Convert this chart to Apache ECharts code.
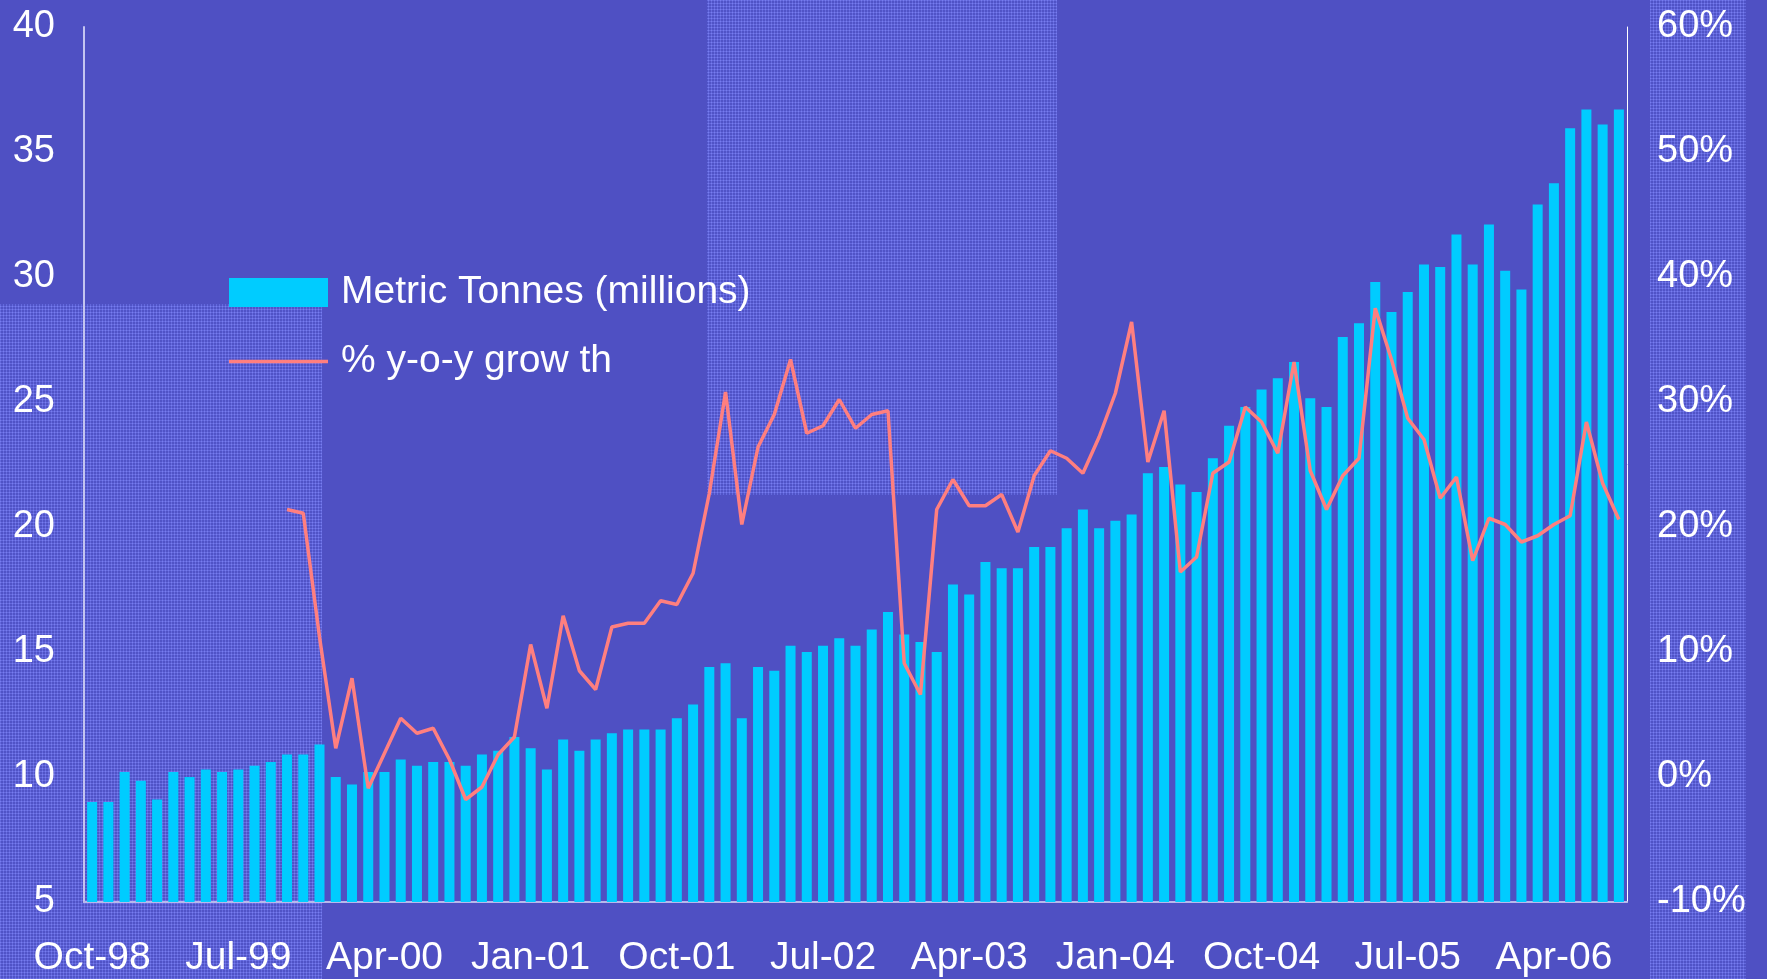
<!DOCTYPE html>
<html>
<head>
<meta charset="utf-8">
<title>Metric Tonnes</title>
<script src="https://cdn.jsdelivr.net/npm/echarts@6/dist/echarts.min.js"></script>
<style>
  html, body { margin: 0; padding: 0; background: #4f50c3; }
  #main { width: 1767px; height: 979px; }
</style>
</head>
<body>
<div id="main"></div>
<script>
// months Oct-98 .. Aug-06
const monthNames = ["Jan","Feb","Mar","Apr","May","Jun","Jul","Aug","Sep","Oct","Nov","Dec"];
const categories = [];
for (let i = 0; i < 95; i++) {
  const m = (9 + i) % 12;
  const y = 1998 + Math.floor((9 + i) / 12);
  categories.push(monthNames[m] + "-" + String(y).slice(2));
}

// Metric Tonnes (millions)
const tonnes = [
  9.0, 9.0, 10.2, 9.85, 9.1, 10.2, 10.0, 10.3, 10.2, 10.3,
  10.45, 10.6, 10.9, 10.9, 11.3, 10.0, 9.7, 10.2, 10.2, 10.7,
  10.45, 10.6, 10.6, 10.45, 10.9, 11.05, 11.6, 11.15, 10.3, 11.5,
  11.05, 11.5, 11.75, 11.9, 11.9, 11.9, 12.35, 12.9, 14.4, 14.55,
  12.35, 14.4, 14.25, 15.25, 15.0, 15.25, 15.55, 15.25, 15.9, 16.6,
  15.7, 15.4, 15.0, 17.7, 17.3, 18.6, 18.35, 18.35, 19.2, 19.2,
  19.95, 20.7, 19.95, 20.25, 20.5, 22.15, 22.4, 21.7, 21.4, 22.75,
  24.05, 24.8, 25.5, 25.95, 26.6, 25.15, 24.8, 27.6, 28.15, 29.8,
  28.6, 29.4, 30.5, 30.4, 31.7, 30.5, 32.1, 30.25, 29.5, 32.9,
  33.75, 35.95, 36.7, 36.1, 36.7
];

// % y-o-y growth (first 12 months have no value)
const growth = [
  null, null, null, null, null, null, null, null, null, null, null, null,
  21.4, 21.1, 11.2, 2.3, 7.9, -0.9, 1.9, 4.7, 3.5, 3.9,
  1.4, -1.8, -0.8, 1.8, 3.2, 10.6, 5.5, 12.9, 8.5, 7.0,
  12.0, 12.3, 12.3, 14.1, 13.8, 16.3, 22.7, 30.8, 20.2, 26.4,
  29.0, 33.4, 27.5, 28.1, 30.2, 27.9, 29.0, 29.3, 9.1, 6.6,
  21.4, 23.8, 21.7, 21.7, 22.6, 19.6, 24.1, 26.1, 25.5, 24.3,
  27.2, 30.7, 36.4, 25.2, 29.3, 16.4, 17.6, 24.3, 25.2, 29.6,
  28.4, 25.9, 33.2, 24.5, 21.4, 24.1, 25.5, 37.5, 33.4, 28.7,
  27.0, 22.3, 24.0, 17.3, 20.7, 20.2, 18.8, 19.3, 20.2, 20.9,
  28.4, 23.5, 20.6
];

const seriesNames = ["Metric Tonnes (millions)", "% y-o-y grow th"];
const font = "'Liberation Sans', Arial, sans-serif";

// dotted texture for the lighter background panels
const tile = document.createElement("canvas");
tile.width = 3; tile.height = 3;
const tc = tile.getContext("2d");
tc.fillStyle = "rgb(80,83,198)";
tc.fillRect(0, 0, 3, 3);
tc.fillStyle = "rgb(100,105,222)";
tc.fillRect(0, 0, 3, 1);
tc.fillRect(0, 0, 1, 3);
tc.fillStyle = "rgb(120,125,238)";
tc.fillRect(0, 0, 1, 1);
const texture = { image: tile, repeat: "repeat" };

const chart = echarts.init(document.getElementById("main"));
chart.setOption({
  backgroundColor: "#4f50c3",
  animation: false,
  textStyle: { fontFamily: font },
  graphic: [
    { type: "rect", z: -10, silent: true, shape: { x: 0, y: 304, width: 322, height: 675 }, style: { fill: texture } },
    { type: "rect", z: -10, silent: true, shape: { x: 707, y: 0, width: 350, height: 495 }, style: { fill: texture } },
    { type: "rect", z: -10, silent: true, shape: { x: 1650, y: 0, width: 96, height: 979 }, style: { fill: texture } }
  ],
  legend: {
    orient: "vertical",
    left: 224,
    top: 268,
    itemWidth: 99,
    itemHeight: 29,
    itemGap: 30,
    symbolKeepAspect: true,
    data: [
      { name: seriesNames[0], icon: "rect" },
      { name: seriesNames[1], icon: "path://M0,0H99V3.5H0Z", itemStyle: { color: "#ff7f7f" } }
    ],
    textStyle: { color: "#ffffff", fontSize: 39, fontFamily: font, padding: [0, 0, 0, 8] }
  },
  grid: { left: 84, right: 140, top: 27, bottom: 77 },
  xAxis: {
    type: "category",
    data: categories,
    boundaryGap: true,
    axisLine: { onZero: false, lineStyle: { color: "#b8b8ec", width: 2 } },
    axisTick: { show: false },
    axisLabel: { interval: 8, color: "#ffffff", fontSize: 39, margin: 37, fontFamily: font },
    splitLine: { show: false }
  },
  yAxis: [
    {
      type: "value",
      min: 5,
      max: 40,
      interval: 5,
      axisLine: { show: true, lineStyle: { color: "#c4c4f0", width: 2 } },
      axisTick: { show: false },
      splitLine: { show: false },
      axisLabel: { color: "#ffffff", fontSize: 38, margin: 29, fontFamily: font }
    },
    {
      type: "value",
      min: -10,
      max: 60,
      interval: 10,
      position: "right",
      axisLine: { show: true, lineStyle: { color: "#ffffff", width: 1 } },
      axisTick: { show: false },
      splitLine: { show: false },
      axisLabel: { color: "#ffffff", fontSize: 38, margin: 30, formatter: "{value}%", fontFamily: font }
    }
  ],
  series: [
    {
      name: seriesNames[0],
      type: "bar",
      data: tonnes,
      barWidth: 10,
      itemStyle: { color: "#00ccff" }
    },
    {
      name: seriesNames[1],
      type: "line",
      yAxisIndex: 1,
      data: growth,
      symbol: "none",
      connectNulls: false,
      lineStyle: { color: "#ff7f7f", width: 3.5 },
      itemStyle: { color: "#ff7f7f" }
    }
  ]
});
</script>
</body>
</html>
